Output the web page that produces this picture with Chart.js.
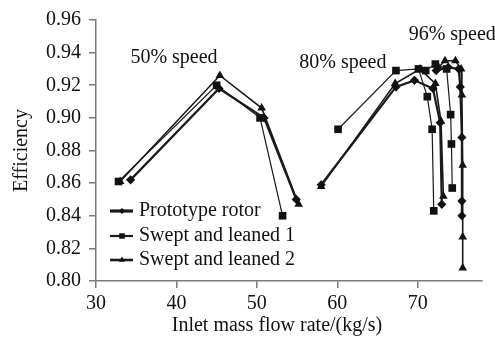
<!DOCTYPE html>
<html>
<head>
<meta charset="utf-8">
<script src="https://cdn.jsdelivr.net/npm/chart.js@4"></script>
<style>
  html, body { margin: 0; padding: 0; background: #fff; }
  #wrap { width: 495px; height: 337px; }
</style>
</head>
<body>
<div id="wrap"><canvas id="effChart" width="495" height="337"></canvas></div>
<script>
// null breaks the line between the 50%, 80% and 96% speed lines
const protoFlow = [34.3, 45.3, 50.9, 54.9, null, 58.0, 67.3, 69.6, 71.9, 72.8, 73.0, null, 72.3, 73.8, 75.1, 75.3, 75.5, 75.5, 75.5];
const protoEff  = [0.862, 0.918, 0.900, 0.850, null, 0.859, 0.919, 0.923, 0.918, 0.897, 0.847, null, 0.929, 0.931, 0.930, 0.919, 0.888, 0.849, 0.840];

const swept1Flow = [32.8, 45.0, 50.4, 53.2, null, 60.1, 67.3, 70.1, 71.2, 71.8, 72.0, null, 71.0, 72.2, 73.6, 74.1, 74.2, 74.3];
const swept1Eff  = [0.861, 0.920, 0.900, 0.840, null, 0.893, 0.929, 0.930, 0.913, 0.893, 0.843, null, 0.929, 0.933, 0.930, 0.902, 0.884, 0.857];

const swept2Flow = [33.0, 45.4, 50.6, 55.2, null, 58.0, 67.2, 70.3, 72.2, 72.9, 73.2, null, 72.6, 73.4, 74.7, 75.4, 75.5, 75.6, 75.6, 75.6];
const swept2Eff  = [0.861, 0.926, 0.906, 0.847, null, 0.858, 0.921, 0.930, 0.921, 0.898, 0.852, null, 0.931, 0.935, 0.935, 0.930, 0.914, 0.871, 0.827, 0.808];

const seriesNames = ['Prototype rotor', 'Swept and leaned 1', 'Swept and leaned 2'];
const speedLabels = ['50% speed', '80% speed', '96% speed'];
const xTicks = [30, 40, 50, 60, 70];
const yTicks = [0.80, 0.82, 0.84, 0.86, 0.88, 0.90, 0.92, 0.94, 0.96];
const xTitle = 'Inlet mass flow rate/(kg/s)';

function toPoints(xs, ys) {
    return xs.map((x, i) => (x === null ? { x: NaN, y: null } : { x: x, y: ys[i] }));
}

const serif = "'Liberation Serif', 'Times New Roman', serif";
const fontPx = 20;

// where the speed labels sit, in data units
const speedLabelPos = [[39.7, 0.937], [60.7, 0.9335], [74.3, 0.951]];

const textPlugin = {
    id: 'extraText',
    afterDatasetsDraw(chart) {
        const ctx = chart.ctx;
        const xs = chart.scales.x, ys = chart.scales.y;
        ctx.save();
        ctx.font = fontPx + 'px ' + serif;
        ctx.fillStyle = '#111';
        ctx.textAlign = 'center';
        ctx.textBaseline = 'middle';
        speedLabels.forEach((t, i) => {
            ctx.fillText(t, xs.getPixelForValue(speedLabelPos[i][0]), ys.getPixelForValue(speedLabelPos[i][1]));
        });
        // x axis title sits a little left of the plot centre
        ctx.fillText(xTitle, 277, 326);
        ctx.restore();
    }
};

const innerLegend = {
    id: 'innerLegend',
    afterDatasetsDraw(chart) {
        const ctx = chart.ctx;
        const left = chart.chartArea.left + 14;
        const rows = [211, 236, 260];
        ctx.save();
        chart.data.datasets.forEach((ds, i) => {
            const y = rows[i];
            ctx.strokeStyle = ds.borderColor;
            ctx.lineWidth = ds.borderWidth + 1;
            ctx.beginPath();
            ctx.moveTo(left, y);
            ctx.lineTo(left + 23, y);
            ctx.stroke();
            ctx.fillStyle = ds.pointBackgroundColor;
            Chart.helpers.drawPoint(ctx, {
                pointStyle: ds.pointStyle, radius: ds.pointRadius - 1.5, rotation: 0, borderWidth: 0
            }, left + 12, y);
            ctx.fillStyle = '#111';
            ctx.font = fontPx + 'px ' + serif;
            ctx.textAlign = 'left';
            ctx.textBaseline = 'middle';
            ctx.fillText(seriesNames[i], left + 29, y);
        });
        ctx.restore();
    }
};

const axisColor = '#7a7a7a';

const config = {
    type: 'line',
    data: {
        datasets: [{
            label: seriesNames[0],
            data: toPoints(protoFlow, protoEff),
            borderColor: '#1a1a1a',
            borderWidth: 2.2,
            pointStyle: 'rectRot',
            pointRadius: 4.6,
            pointBackgroundColor: '#111',
            pointBorderWidth: 0
        }, {
            label: seriesNames[1],
            data: toPoints(swept1Flow, swept1Eff),
            borderColor: '#1a1a1a',
            borderWidth: 1.2,
            pointStyle: 'rect',
            pointRadius: 5.4,
            pointBackgroundColor: '#111',
            pointBorderWidth: 0
        }, {
            label: seriesNames[2],
            data: toPoints(swept2Flow, swept2Eff),
            borderColor: '#1a1a1a',
            borderWidth: 1.6,
            pointStyle: 'triangle',
            pointRadius: 5,
            pointBackgroundColor: '#111',
            pointBorderWidth: 0
        }]
    },
    options: {
        responsive: false,
        animation: false,
        spanGaps: false,
        layout: { padding: { top: 20, right: 13, left: 0, bottom: 0 } },
        scales: {
            x: {
                type: 'linear',
                min: 30,
                max: 78,
                afterBuildTicks: (s) => { s.ticks = xTicks.map(v => ({ value: v })); },
                afterFit: (s) => { s.height = 56; },
                grid: { drawOnChartArea: false, drawTicks: true, tickLength: 7, color: axisColor, lineWidth: 1.5 },
                border: { color: axisColor, width: 1.5 },
                ticks: { color: '#111', font: { family: serif, size: fontPx }, padding: 4, maxRotation: 0 },
                title: { display: false }
            },
            y: {
                min: 0.80,
                max: 0.96,
                afterBuildTicks: (s) => { s.ticks = yTicks.map(v => ({ value: v })); },
                afterFit: (s) => { s.width = 96; },
                grid: { drawOnChartArea: false, drawTicks: true, tickLength: 7, color: axisColor, lineWidth: 1.5 },
                border: { color: axisColor, width: 1.5 },
                ticks: { color: '#111', font: { family: serif, size: fontPx }, padding: 8, callback: (v) => v.toFixed(2) },
                title: { display: true, text: 'Efficiency', color: '#111', font: { family: serif, size: fontPx }, padding: { top: 10, bottom: 0 } }
            }
        },
        plugins: {
            legend: { display: false },
            tooltip: { enabled: false }
        }
    },
    plugins: [textPlugin, innerLegend]
};

new Chart(document.getElementById('effChart'), config);
</script>
</body>
</html>
